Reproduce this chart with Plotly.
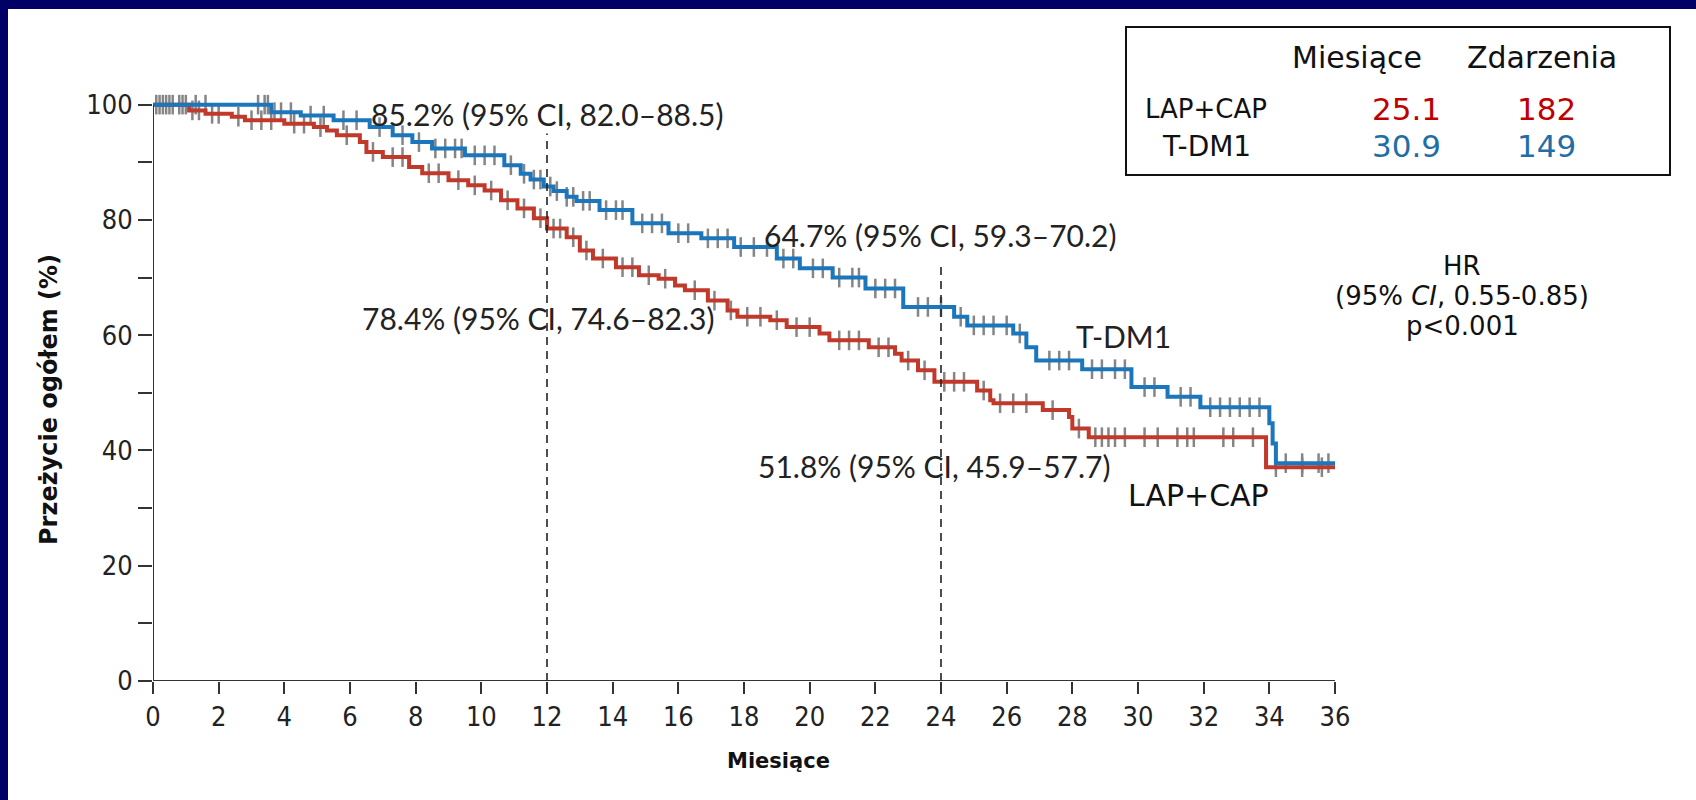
import numpy as np
import plotly.graph_objects as go

# ---------------- data ----------------
x_ticks = list(range(0, 37, 2))
y_ticks = [0, 10, 20, 30, 40, 50, 60, 70, 80, 90, 100]
y_tick_labels = ["0", "", "20", "", "40", "", "60", "", "80", "", "100"]

tdm1_t = [0, 3.6, 4.5, 5.5, 6.6, 7.3, 7.9, 8.5, 9.5, 10.7, 11.2, 11.5, 11.9, 12.2, 12.6, 12.9,
          13.6, 14.6, 15.7, 16.7, 17.7, 19.0, 19.7, 20.7, 21.7, 22.85, 24.4, 24.8, 26.2, 26.6,
          26.9, 28.3, 29.8, 30.9, 31.9, 34.0, 34.1, 34.2, 36.0]
tdm1_s = [100, 98.7, 98.1, 97.3, 96.1, 94.7, 93.5, 92.4, 91.2, 89.5, 88.0, 87.0, 85.8, 85.0, 84.0, 83.3,
          81.7, 79.4, 77.7, 76.8, 75.3, 73.3, 71.6, 70.0, 68.1, 64.9, 63.2, 61.7, 60.3, 57.9,
          55.6, 54.1, 51.0, 49.3, 47.5, 44.7, 41.2, 37.8, 37.8]

lap_t = [0, 1.1, 1.6, 2.4, 2.8, 4.0, 4.9, 5.3, 5.6, 6.3, 6.5, 7.0, 7.8, 8.2, 9.0, 9.6, 10.1,
         10.6, 11.1, 11.6, 12.0, 12.6, 13.0, 13.4, 14.1, 14.8, 15.4, 15.9, 16.2, 16.9, 17.5,
         17.8, 18.8, 19.3, 20.3, 20.6, 21.8, 22.6, 22.8, 23.3, 23.8, 25.1, 25.5, 25.6, 27.1,
         27.9, 28.0, 28.5, 33.9, 36.0]
lap_s = [100, 99.0, 98.4, 97.9, 97.3, 96.7, 96.1, 95.5, 94.7, 93.5, 91.8, 90.9, 89.2, 88.1, 86.9, 86.0, 85.1,
         83.4, 82.0, 80.3, 78.5, 77.0, 74.7, 73.3, 71.8, 70.4, 69.8, 68.6, 67.8, 66.0, 64.3,
         63.2, 62.6, 61.4, 60.3, 59.1, 57.9, 56.8, 55.6, 53.9, 51.9, 50.4, 48.7, 48.2, 47.0,
         45.8, 43.8, 42.3, 37.1, 37.1]

tdm1_censor = [0.2, 0.4, 0.6, 0.9, 1.0, 1.3, 1.6, 3.2, 3.4, 3.5, 3.7, 3.9, 4.2, 4.8, 5.2, 5.8, 6.2,
               6.9, 7.6, 8.1, 8.6, 8.9, 9.2, 9.4, 9.8, 10.1, 10.4, 10.9, 11.3, 11.6, 11.8, 12.1,
               12.3, 12.6, 12.8, 13.1, 13.3, 13.8, 14.1, 14.3, 14.9, 15.2, 15.5, 16.0, 16.3, 16.9,
               17.2, 17.5, 17.9, 18.3, 18.7, 19.2, 19.5, 20.1, 20.4, 20.9, 21.3, 21.5, 22.0, 22.3,
               22.6, 23.3, 23.6, 24.0, 24.6, 25.0, 25.3, 25.6, 26.0, 26.4, 27.3, 27.6, 27.9, 28.6,
               28.9, 29.3, 29.6, 30.2, 30.5, 31.3, 31.6, 32.2, 32.5, 32.8, 33.1, 33.4, 33.7, 34.5,
               35.0, 35.5, 35.8]
lap_censor = [0.1, 0.3, 0.5, 0.8, 1.2, 1.4, 1.8, 2.0, 2.6, 3.0, 3.3, 3.6, 4.3, 4.6, 5.1, 5.9, 6.7,
              7.3, 7.6, 8.4, 8.7, 9.3, 9.8, 10.3, 10.8, 11.3, 11.8, 12.2, 12.4, 12.8, 13.2, 13.7,
              14.3, 14.6, 15.1, 15.6, 16.5, 17.1, 17.6, 18.1, 18.5, 19.0, 19.6, 20.0, 20.9, 21.2,
              21.5, 22.1, 22.4, 23.0, 23.5, 24.1, 24.4, 24.7, 25.3, 25.8, 26.2, 26.6, 27.4, 28.2,
              28.7, 28.9, 29.1, 29.3, 29.6, 30.2, 30.6, 31.2, 31.5, 31.7, 32.6, 32.9, 33.5, 34.2,
              35.0, 35.6]

landmark_months = [12, 24]
landmark_top = [95, 72]
landmark_text = {
    "tdm1_12": "85.2% (95% CI, 82.0–88.5)",
    "tdm1_24": "64.7% (95% CI, 59.3–70.2)",
    "lap_12": "78.4% (95% CI, 74.6–82.3)",
    "lap_24": "51.8% (95% CI, 45.9–57.7)",
}
table_header = ["Miesiące", "Zdarzenia"]
table_arms = ["LAP+CAP", "T-DM1"]
table_months = ["25.1", "30.9"]
table_events = ["182", "149"]
hr_lines = ["HR", "(95% <i>CI</i>, 0.55-0.85)", "p<0.001"]

# ---------------- styling ----------------
W, H = 1696, 800
L, R, T, B = 153, 361, 96, 119
BLUE = "#1b76bc"
RED = "#c1392b"
T_BLUE = "#1f6fa6"
T_RED = "#c00000"
GREY = "#858585"
AX = "#333333"
SANS = "Lato, 'Open Sans', sans-serif"
NARROW = "'Liberation Sans Narrow', 'Arial Narrow', 'DejaVu Sans Condensed', Roboto, sans-serif"
COMIC = "'Comic Sans MS', 'DejaVu Sans', sans-serif"


def px(xp):
    return (xp - L) / (W - L - R)


def py(yp):
    return (H - B - yp) / (H - T - B)


def step_value(times, surv, tc):
    idx = np.searchsorted(np.asarray(times), np.asarray(tc), side="right") - 1
    return np.asarray(surv)[idx]


fig = go.Figure()

for times, surv, cens in [(tdm1_t, tdm1_s, tdm1_censor), (lap_t, lap_s, lap_censor)]:
    fig.add_trace(go.Scatter(
        x=cens, y=step_value(times, surv, cens), mode="markers",
        marker=dict(symbol="line-ns", size=14, line=dict(width=2.5, color=GREY)),
        hoverinfo="skip", showlegend=False, cliponaxis=False))

fig.add_trace(go.Scatter(x=lap_t, y=lap_s, mode="lines", line=dict(color=RED, width=4, shape="hv"),
                         name="LAP+CAP", showlegend=False))
fig.add_trace(go.Scatter(x=tdm1_t, y=tdm1_s, mode="lines", line=dict(color=BLUE, width=4, shape="hv"),
                         name="T-DM1", showlegend=False))

shapes = []
shapes.append(dict(type="line", xref="x", yref="y", x0=0, x1=36, y0=0, y1=0,
                   line=dict(color=AX, width=2)))
shapes.append(dict(type="line", xref="x", yref="y", x0=0, x1=0, y0=0, y1=100,
                   line=dict(color=AX, width=2)))
for m, top in zip(landmark_months, landmark_top):
    shapes.append(dict(type="line", xref="x", yref="y", x0=m, x1=m, y0=0, y1=top,
                       line=dict(color="#222", width=1.6, dash="8px,6px")))
shapes.append(dict(type="rect", xref="paper", yref="paper", x0=px(1126), x1=px(1670),
                   y0=py(175), y1=py(27), line=dict(color="#111", width=2), fillcolor="white"))
shapes.append(dict(type="rect", xref="paper", yref="paper", x0=px(0), x1=px(W),
                   y0=py(9), y1=py(0), line=dict(width=0), fillcolor="#000066"))
shapes.append(dict(type="rect", xref="paper", yref="paper", x0=px(0), x1=px(8),
                   y0=py(H), y1=py(0), line=dict(width=0), fillcolor="#000066"))

ann = []


def A(text, xp, yp, size, family=SANS, color="#222", **kw):
    ann.append(dict(text=text, x=px(xp), y=py(yp), xref="paper", yref="paper",
                    showarrow=False, xanchor="center", yanchor="middle",
                    font=dict(size=size, family=family, color=color), **kw))


A(landmark_text["tdm1_12"], 547, 114, 30)
A(landmark_text["lap_12"], 538, 318, 30)
A(landmark_text["tdm1_24"], 940, 235, 30)
A(landmark_text["lap_24"], 934, 466, 30)
A("T-DM1", 1123, 336, 30)
A("LAP+CAP", 1198, 495, 30, family=COMIC, color="#111")

A(table_header[0], 1357, 57, 30, family=COMIC, color="#111")
A(table_header[1], 1542, 57, 30, family=COMIC, color="#111")
arm_x = [1206, 1206]
arm_size = [26, 28]
row_y = [109, 146]
for i in range(2):
    col = T_RED if i == 0 else T_BLUE
    A(table_arms[i], arm_x[i], row_y[i], arm_size[i], family=COMIC, color="#111")
    A(table_months[i], 1406, row_y[i], 31, family=COMIC, color=col)
    A(table_events[i], 1546, row_y[i], 31, family=COMIC, color=col)

for txt, yy in zip(hr_lines, [266, 296, 326]):
    A(txt, 1462, yy, 26, family=COMIC, color="#111")

A("<b>Miesiące</b>", 778, 761, 21, family=COMIC, color="#111")
A("<b>Przeżycie ogółem (%)</b>", 49, 400, 24, family=COMIC, color="#111", textangle=-90)

fig.update_layout(
    width=W, height=H,
    margin=dict(l=L, r=R, t=T, b=B, pad=0),
    paper_bgcolor="white", plot_bgcolor="white",
    shapes=shapes, annotations=ann, showlegend=False,
    xaxis=dict(range=[0, 36], tickvals=x_ticks, ticktext=[str(v) for v in x_ticks],
               ticks="outside", ticklen=12, tickwidth=2, tickcolor=AX,
               showgrid=False, zeroline=False, showline=False, ticklabelstandoff=0,
               tickfont=dict(family=NARROW, size=27, color="#222")),
    yaxis=dict(range=[0, 101.5], tickvals=y_ticks, ticktext=y_tick_labels,
               ticks="outside", ticklen=14, tickwidth=2, tickcolor=AX,
               showgrid=False, zeroline=False, showline=False,
               tickfont=dict(family=NARROW, size=27, color="#222")),
)

fig.write_html("out.html", config={"displayModeBar": False},
               post_script="document.body.style.margin='0';")
